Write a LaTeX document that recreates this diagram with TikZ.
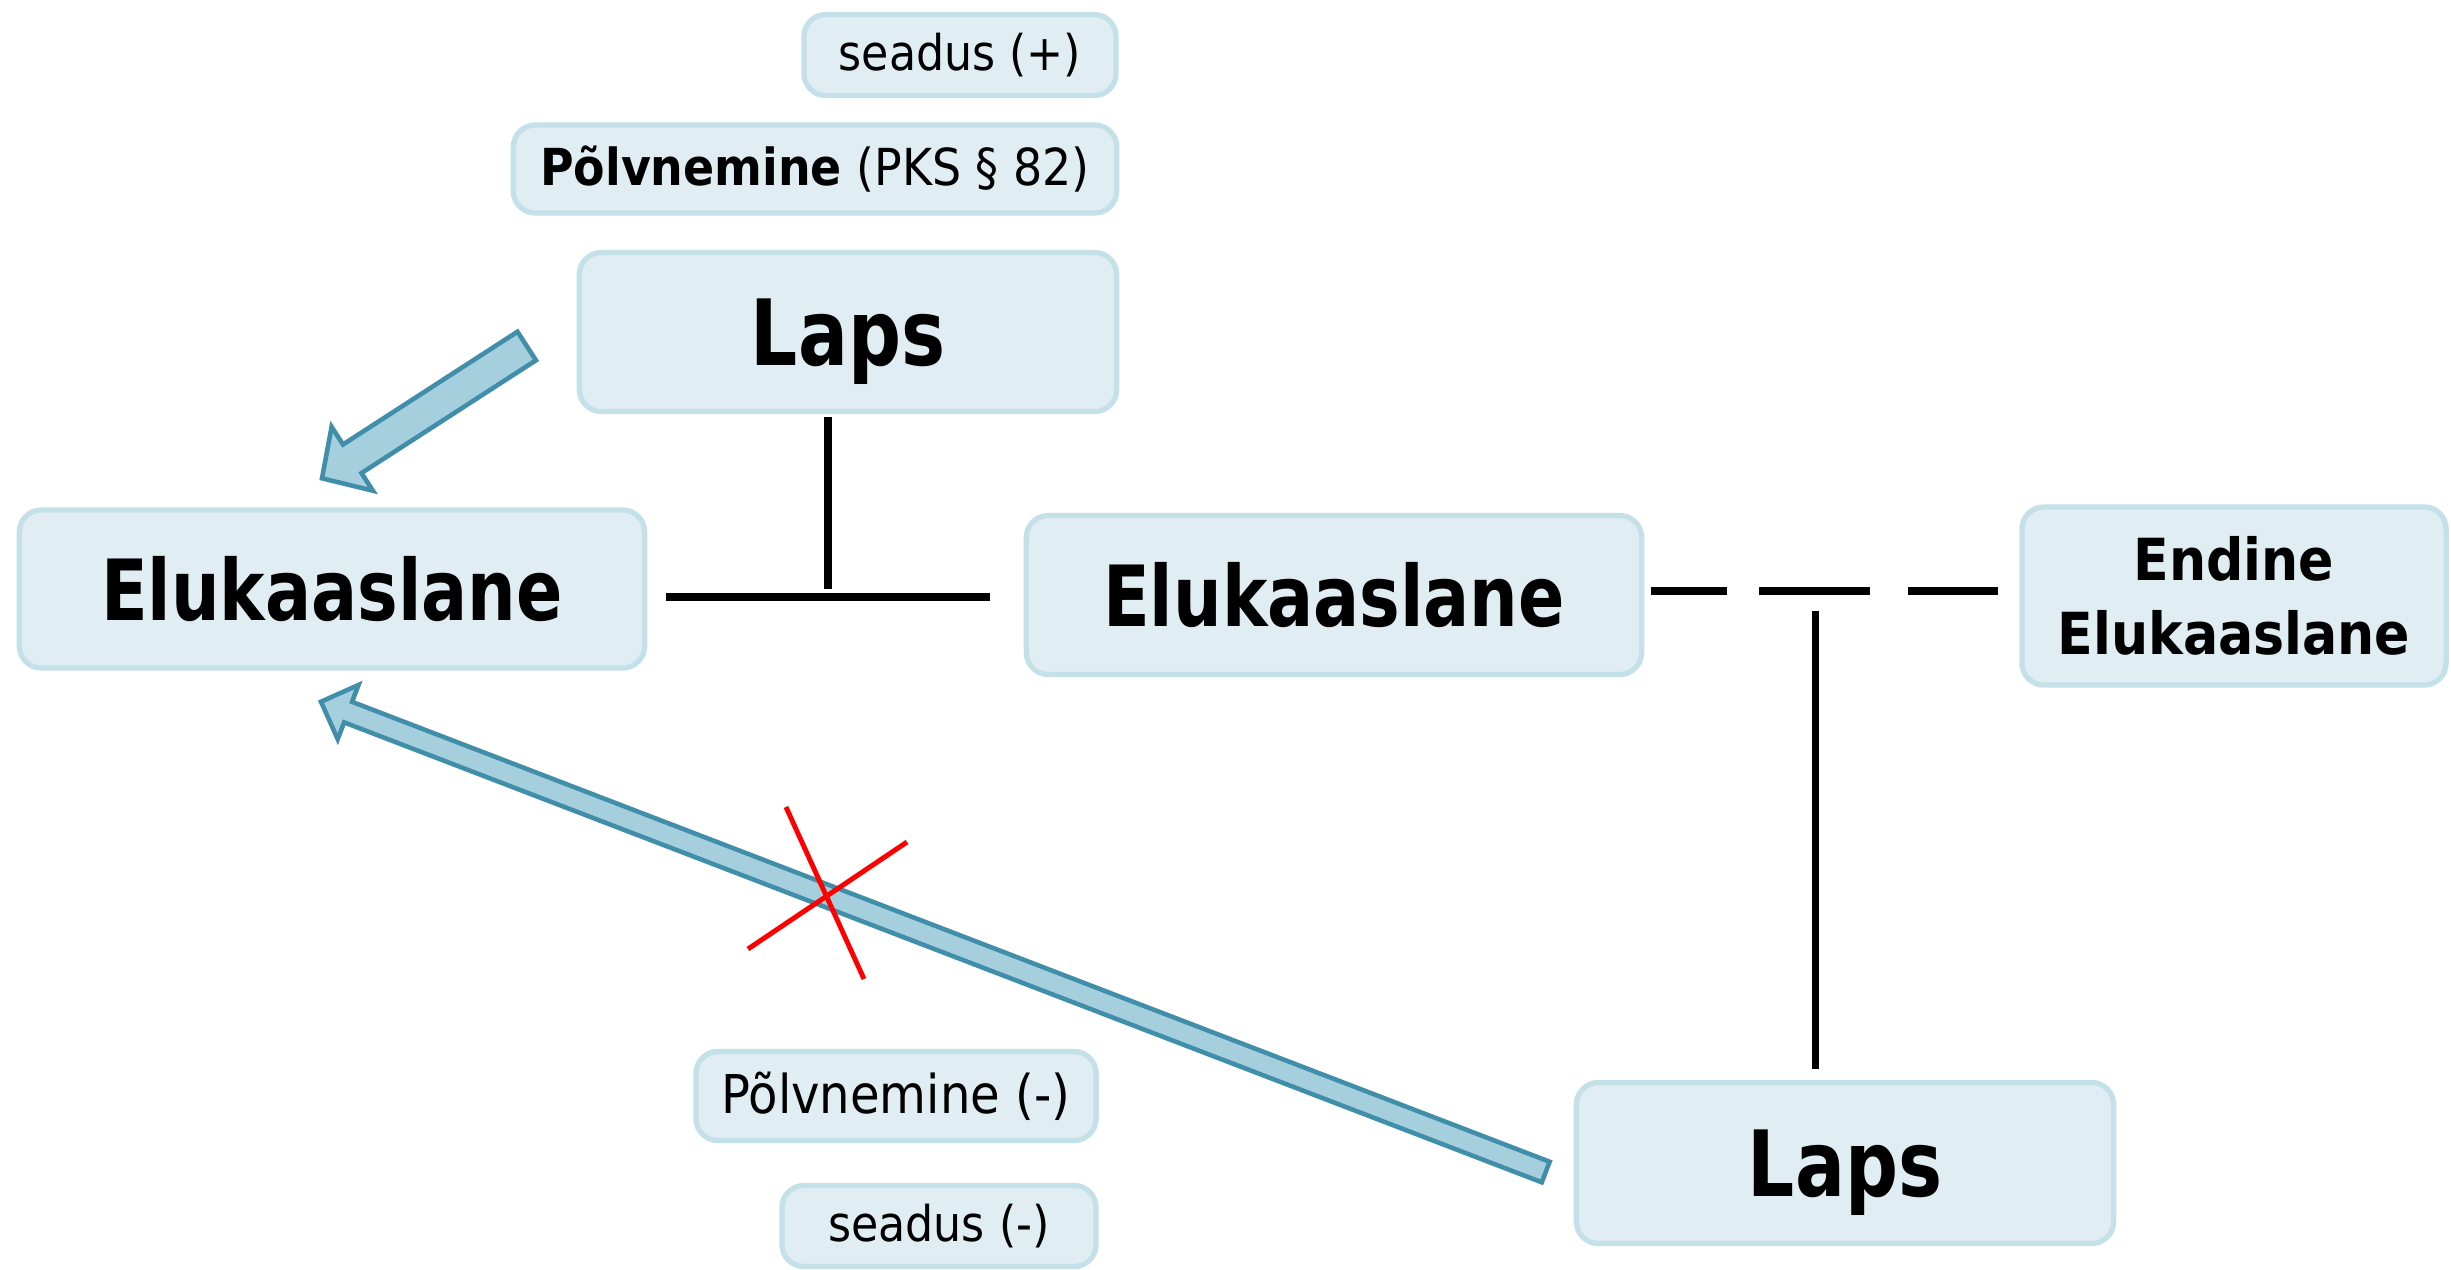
\documentclass[tikz,border=0pt]{standalone}
\usepackage{fontspec}
\setmainfont{DejaVu Sans Condensed}
\newfontfamily\bigfont{DejaVu Sans Condensed}[FakeStretch=0.9]
\usetikzlibrary{calc}
\definecolor{boxfill}{HTML}{E0EDF3}
\definecolor{boxline}{HTML}{C4E0E8}
\definecolor{arrowfill}{HTML}{A6CFDE}
\definecolor{arrowline}{HTML}{408EA9}
\tikzset{
  box/.style={draw=boxline, fill=boxfill, line width=1.5pt, rounded corners=0.22cm, align=center, inner sep=0pt},
  lapsfont/.style={font=\fontsize{26}{31}\bigfont\bfseries, text depth=0pt},
  elukfont/.style={font=\fontsize{24}{29}\bigfont\bfseries},
  smallfont/.style={font=\fontsize{14}{17}\selectfont},
  famline/.style={line width=2pt},
  blockarrow/.style={draw=arrowline, fill=arrowfill, line width=1.3pt, line join=miter},
  cross/.style={red, line width=1.4pt}
}
% block arrow: from, to, half shaft, half head, head length
\newcommand{\fatarrow}[5]{%
  \coordinate (hb) at ($(#2)!#5!(#1)$);
  \draw[blockarrow] ($(#1)!#3!90:(#2)$) -- ($(hb)!#3!90:(#2)$) -- ($(hb)!#4!90:(#2)$)
    -- (#2) -- ($(hb)!#4!-90:(#2)$) -- ($(hb)!#3!-90:(#2)$) -- ($(#1)!#3!-90:(#2)$) -- cycle;
}
\begin{document}
\begin{tikzpicture}[x=0.01cm, y=-0.01cm]
  \useasboundingbox (0,0) rectangle (2451,1269);

  % top: child of the couple
  \node[box, smallfont, minimum width=3.12cm, minimum height=0.81cm] (seadusPlus) at (960,55) {seadus (+)};
  \node[box, font=\fontsize{14.5}{17}\selectfont, minimum width=6.03cm, minimum height=0.88cm] (polvPlus) at (815,169) {\textbf{Põlvnemine} (PKS § 82)};
  \node[box, lapsfont, minimum width=5.37cm, minimum height=1.59cm] (lapsTop) at (848,332) {Laps};

  % couples
  \node[box, elukfont, minimum width=6.25cm, minimum height=1.58cm] (elukLeft) at (332,589) {Elukaaslane};
  \node[box, elukfont, minimum width=6.15cm, minimum height=1.59cm] (elukMid) at (1334,595) {Elukaaslane};
  \node[box, font=\fontsize{16.5}{21}\selectfont\bfseries, minimum width=4.24cm, minimum height=1.78cm] (endine) at (2234,596) {Endine\\Elukaaslane};

  % bottom: child of the former couple
  \node[box, lapsfont, minimum width=5.37cm, minimum height=1.61cm] (lapsBot) at (1845,1163) {Laps};
  \node[box, font=\fontsize{15.2}{18}\selectfont, minimum width=4.00cm, minimum height=0.89cm] (polvMinus) at (896,1096) {Põlvnemine (-)};
  \node[box, smallfont, minimum width=3.14cm, minimum height=0.81cm] (seadusMinus) at (939,1226) {seadus (-)};

  % family lines
  \coordinate (hL) at ($(elukLeft.east)+(19,8)$);
  \coordinate (hR) at ($(elukMid.west)+(-34,2)$);
  \coordinate (tTop) at ($(lapsTop.south)+(-20,3)$);
  \draw[famline] (hL) -- (hR);
  \draw[famline] (tTop) -- ($(tTop |- hL)+(0,-8)$);

  \coordinate (dL) at ($(elukMid.east)+(7,-4)$);
  \coordinate (dR) at ($(endine.west)+(-21,-5)$);
  \coordinate (vB) at ($(lapsBot.north)+(-30,-11)$);
  \draw[famline, dash pattern=on 21.6pt off 9.1pt on 31.6pt off 10.8pt on 25.9pt] (dL) -- (dR);
  \draw[famline] (vB) -- ($(vB |- dL)+(0,20)$);

  % descent arrows
  \coordinate (a1s) at ($(lapsTop.west)+(-50,14)$);
  \coordinate (a1e) at ($(elukLeft.north)+(-10,-29)$);
  \fatarrow{a1s}{a1e}{0.17cm}{0.38cm}{0.36cm}
  \coordinate (a2s) at ($(lapsBot.west)+(-28,9)$);
  \coordinate (a2e) at ($(elukLeft.south)+(-11,31)$);
  \fatarrow{a2s}{a2e}{0.11cm}{0.29cm}{0.29cm}

  % crossed out
  \draw[cross] (786,807) -- (864,979);
  \draw[cross] (748,949) -- (907,842);
\end{tikzpicture}
\end{document}
